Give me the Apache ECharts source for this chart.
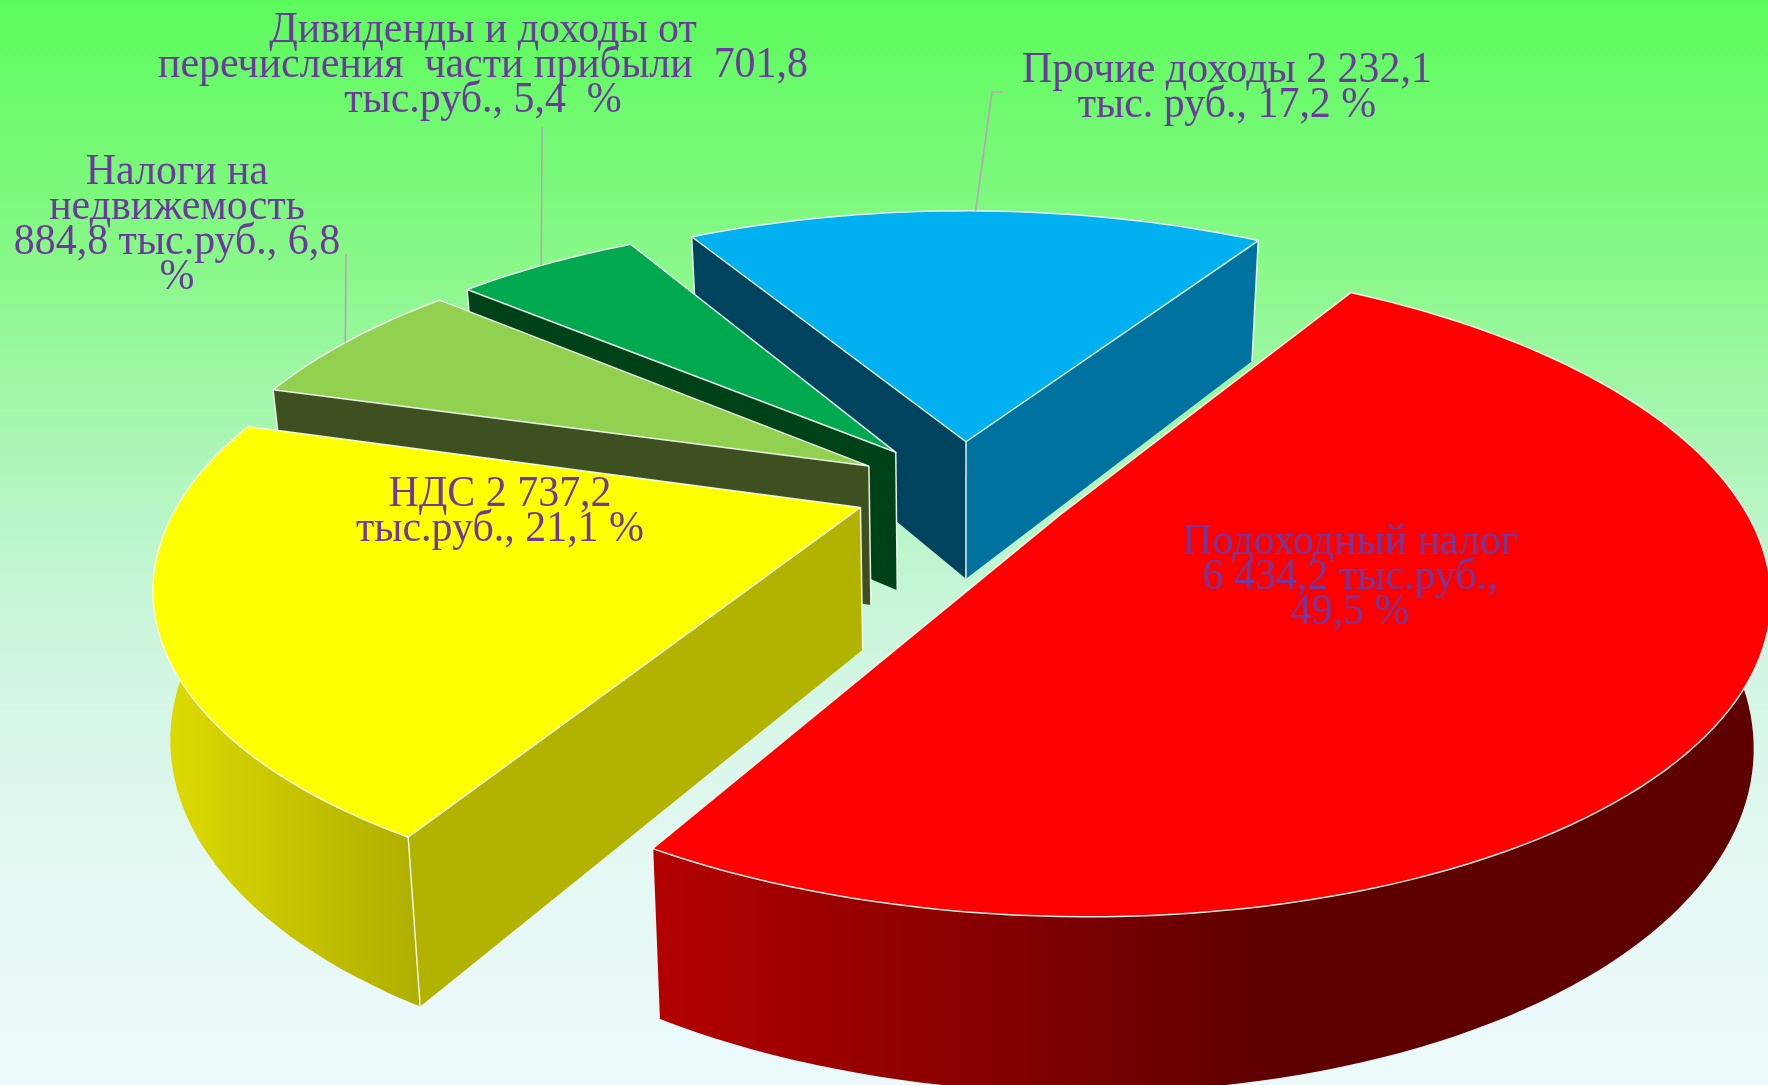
<!DOCTYPE html>
<html><head><meta charset="utf-8">
<style>html,body{margin:0;padding:0;width:100%;height:100%;overflow:hidden}#c{width:1768px;height:1085px}</style>
<script src="https://cdn.jsdelivr.net/npm/echarts@6/dist/echarts.min.js"></script>
</head><body><div id="c"></div>
<script>
const categories = ['Подоходный налог','НДС','Налоги на недвижемость','Дивиденды и доходы от перечисления части прибыли','Прочие доходы'];
const values = [6434.2, 2737.2, 884.8, 701.8, 2232.1];
const labelLines = [
  ['Подоходный налог','6 434,2 тыс.руб.,','49,5 %'],
  ['НДС 2 737,2','тыс.руб., 21,1 %'],
  ['Налоги на','недвижемость','884,8 тыс.руб., 6,8','%'],
  ['Дивиденды и доходы от','перечисления  части прибыли  701,8','тыс.руб., 5,4  %'],
  ['Прочие доходы 2 232,1','тыс. руб., 17,2 %']
];
// layout and style (not data)
const labelPos = [[1350,520],[500,472],[177,150],[483,8],[1227,48]];
const labelScaleX = 0.953;
const leaders = [null,null,[[346,254]],[[542,127]],[[992,92],[1003,92]]];
const leaderFrac = [0,0,0.48,0.47,0.5];
const topColors = ['#ff0000','#ffff00','#92d050','#00a94f','#00b0f0'];
const startWall = ['#600000','#b2b200','#3f5020','#004218','#00435f'];
const endWall = ['#600000','#b2b200','#3f5020','#004218','#0072a0'];
const rimStops = [
  [[0,'#b40000'],[0.55,'#5f0000'],[1,'#5f0000']],
  [[0,'#e0dc00'],[1,'#aeae00']],
  [[0,'#3f5020'],[1,'#3f5020']],
  [[0,'#004218'],[1,'#004218']],
  [[0,'#00435f'],[1,'#00435f']]
];
const explode = [110,110,110,110,110];
const P = {cx:964,cy:489,R:675,k:0.22,s:0.445,h:144,zf:0.022,startDeg:32};
const total = values.reduce((a,b)=>a+b,0);
const starts = []; { let a=P.startDeg; values.forEach(v=>{starts.push(a); a+=v/total*360;}); }
function proj(X,Y,Z){
  const w=(1-P.k*Y/P.R)*(1+P.zf*Z);
  return [P.cx+X/w, P.cy+(P.s*Y+P.h*Z)/w];
}
function disc(i,deg,r){
  const a0=(starts[i]+values[i]/total*180)*Math.PI/180, e=explode[i];
  const a=deg*Math.PI/180;
  return [e*Math.sin(a0)+r*Math.sin(a), -e*Math.cos(a0)-r*Math.cos(a)];
}
const EDGE='rgba(240,250,240,0.95)';
function wallVisible(A,corner,M){
  const ex=corner[0]-A[0], ey=corner[1]-A[1];
  const inner=ex*(M[1]-A[1])-ey*(M[0]-A[0]);
  const down=ex;            // cross of edge with straight down
  return inner*down<0;
}
function renderSlice(params,api){
  const i=api.value(0), v=api.value(1);
  const a0=starts[i], a1=a0+v/total*360, n=Math.max(6,Math.round((a1-a0)/1.5));
  const top=[],bot=[],disc0=[];
  for(let j=0;j<=n;j++){
    const d=a0+(a1-a0)*j/n, q=disc(i,d,P.R);
    disc0.push(q); top.push(proj(q[0],q[1],0)); bot.push(proj(q[0],q[1],1));
  }
  const c=disc(i,a0,0), A=proj(c[0],c[1],0), B=proj(c[0],c[1],1);
  const M=top[Math.round(n/2)];
  const ln=(p,q)=>({type:'line',shape:{x1:p[0],y1:p[1],x2:q[0],y2:q[1]},style:{stroke:EDGE,lineWidth:1.5}});
  const ch=[];
  ch.push({type:'polygon',shape:{points:top.concat(bot.slice().reverse())},
    style:{fill:{type:'linear',x:0,y:0,x2:1,y2:0,colorStops:rimStops[i].map(s=>({offset:s[0],color:s[1]}))}}});
  const vEnd=wallVisible(A,top[n],M), vStart=wallVisible(A,top[0],M);
  if(vEnd) ch.push({type:'polygon',shape:{points:[A,top[n],bot[n],B]},style:{fill:endWall[i]}});
  if(vStart) ch.push({type:'polygon',shape:{points:[A,top[0],bot[0],B]},style:{fill:startWall[i]}});
  if(vEnd||vStart) ch.push(ln(A,B));
  if(vStart||disc0[0][1]>0) ch.push(ln(top[0],bot[0]));
  if(vEnd||disc0[n][1]>0) ch.push(ln(top[n],bot[n]));
  ch.push({type:'polygon',shape:{points:[A].concat(top)},style:{fill:topColors[i],stroke:EDGE,lineWidth:1.5,lineJoin:'round'}});
  if(leaders[i]){
    const q=disc(i,a0+(a1-a0)*leaderFrac[i],P.R), p=proj(q[0],q[1],0);
    ch.push({type:'polyline',shape:{points:[p].concat(leaders[i])},style:{fill:null,stroke:'#b9a3ba',lineWidth:1.6}});
  }
  return {type:'group',children:ch};
}
function renderLabel(params,api){
  const i=api.value(0), pos=labelPos[i];
  return {type:'group',children:labelLines[i].map((t,j)=>({type:'text',x:pos[0],y:pos[1]+j*35.3,scaleX:labelScaleX,
    style:{text:t,textAlign:'center',textVerticalAlign:'top',fill:'#6e389f',font:'44px "Liberation Serif"'}}))};
}
const order=[4,3,2,1,0];
const chart=echarts.init(document.getElementById('c'));
chart.setOption({
  animation:false,
  backgroundColor:{type:'linear',x:0,y:0,x2:0,y2:1,colorStops:[
    {offset:0,color:'#5cfb5c'},{offset:0.25,color:'#8af88a'},{offset:0.5,color:'#bdf5cd'},
    {offset:0.62,color:'#d2f6e3'},{offset:0.8,color:'#e4f8f4'},{offset:1,color:'#ebf9fb'}]},
  series:[
    {type:'custom',name:'slices',coordinateSystem:'none',silent:true,renderItem:renderSlice,clip:false,
     data:order.map(i=>({name:categories[i],value:[i,values[i]]}))},
    {type:'custom',name:'labels',coordinateSystem:'none',silent:true,z:10,renderItem:renderLabel,
     data:order.map(i=>({name:categories[i],value:[i,values[i]]}))}
  ]
});
</script></body></html>
